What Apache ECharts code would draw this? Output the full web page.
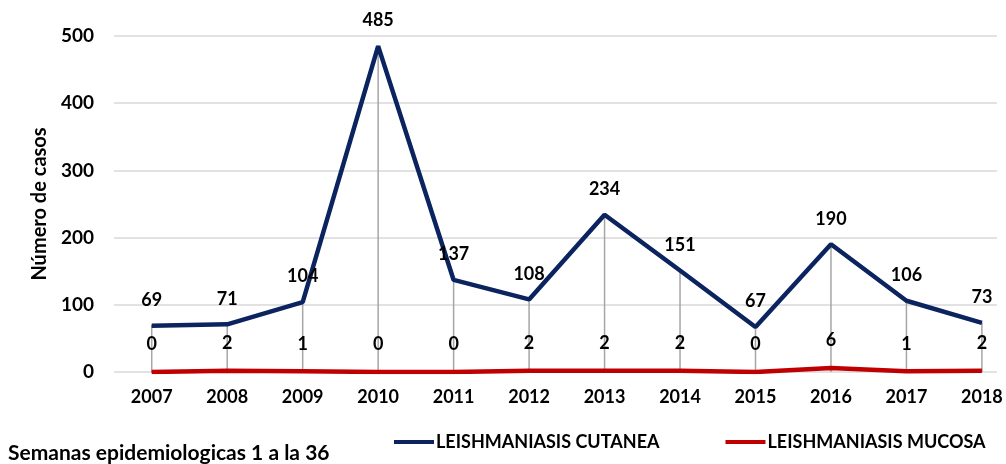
<!DOCTYPE html>
<html>
<head>
    <meta charset="utf-8">
    <title>Leishmaniasis</title>
    <script src="https://cdn.jsdelivr.net/npm/echarts@6/dist/echarts.min.js"></script>
</head>
<body style="margin:0">
<div id="container" style="width: 1006px;height: 464px;"></div>
<script type="text/javascript">
    // años
    var years = ['2007', '2008', '2009', '2010', '2011', '2012', '2013', '2014', '2015', '2016', '2017', '2018'];
    // casos cutanea
    var cutanea = [69, 71, 104, 485, 137, 108, 234, 151, 67, 190, 106, 73];
    // casos mucosa
    var mucosa = [0, 2, 1, 0, 0, 2, 2, 2, 0, 6, 1, 2];
    // ticks eje y
    var yTicks = [0, 100, 200, 300, 400, 500];

    var font = 'Lato';
    function pairs(arr) {
        return arr.map(function (v, i) { return [i, v]; });
    }
    var idx = years.map(function (y, i) { return i; });

    var myChart = echarts.init(document.getElementById('container'));
    var option = {
        animation: false,
        textStyle: {fontFamily: font},
        title: {
            text: 'Semanas epidemiologicas 1 a la 36',
            left: 3,
            top: 438,
            textStyle: {fontSize: 21, fontWeight: 'bold', color: '#000', fontFamily: font}
        },
        legend: {
            data: ['LEISHMANIASIS CUTANEA', 'LEISHMANIASIS MUCOSA'],
            left: 389,
            top: 428,
            icon: 'rect',
            itemWidth: 40,
            itemHeight: 4,
            itemGap: 66,
            textStyle: {fontSize: 18, fontWeight: 'bold', color: '#000', padding: [0, 0, 0, -3]}
        },
        grid: {left: 114, right: 9, top: 36, bottom: 92},
        xAxis: {
            type: 'value',
            min: -0.5,
            max: 11.2,
            splitLine: {show: false},
            axisLine: {show: false},
            axisTick: {show: false},
            axisLabel: {
                customValues: idx,
                margin: 16,
                fontSize: 18,
                fontWeight: 'bold',
                color: '#000',
                formatter: function (v) { return years[Math.round(v)]; }
            }
        },
        yAxis: {
            type: 'value',
            min: 0,
            max: 500,
            interval: 100,
            name: 'Número de casos',
            nameLocation: 'middle',
            nameGap: 59,
            nameTextStyle: {fontSize: 20, fontWeight: 'bold', color: '#000'},
            axisLine: {show: false},
            axisTick: {show: false},
            splitLine: {lineStyle: {color: '#d9d9d9', width: 1.5}},
            axisLabel: {
                margin: 20,
                fontSize: 19,
                fontWeight: 'bold',
                color: '#000',
                formatter: function (v) { return yTicks.indexOf(v) >= 0 ? String(v) : ''; }
            }
        },
        series: [
            { // lineas de caida
                type: 'bar',
                name: 'drop',
                barWidth: 1.5,
                silent: true,
                itemStyle: {color: '#a6a6a6'},
                data: pairs(cutanea),
                z: 1
            },
            {
                type: 'line',
                name: 'LEISHMANIASIS MUCOSA',
                data: pairs(mucosa),
                symbol: 'circle',
                symbolSize: 1,
                lineStyle: {color: '#c00000', width: 4.5},
                itemStyle: {color: '#c00000'},
                label: {
                    show: true,
                    position: 'top',
                    distance: 18,
                    fontSize: 18,
                    fontWeight: 'bold',
                    color: '#000'
                },
                z: 2
            },
            {
                type: 'line',
                name: 'LEISHMANIASIS CUTANEA',
                data: pairs(cutanea),
                symbol: 'circle',
                symbolSize: 1,
                lineStyle: {color: '#0b2460', width: 4.5},
                itemStyle: {color: '#0b2460'},
                label: {
                    show: true,
                    position: 'top',
                    distance: 16,
                    fontSize: 18,
                    fontWeight: 'bold',
                    color: '#000'
                },
                z: 3
            }
        ]
    };
    myChart.setOption(option);
</script>
</body>
</html>
